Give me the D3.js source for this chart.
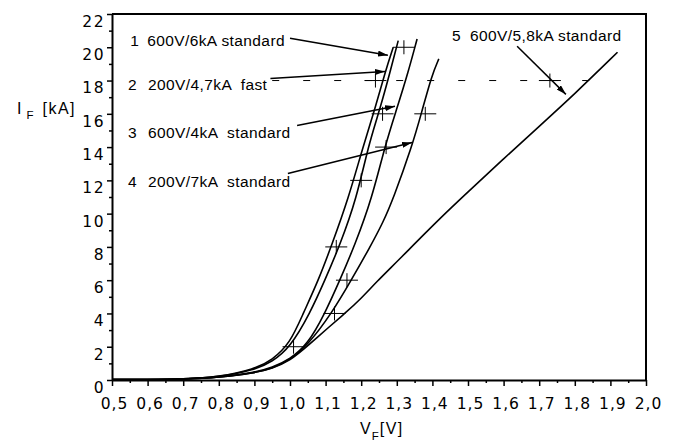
<!DOCTYPE html>
<html>
<head>
<meta charset="utf-8">
<script src="https://cdnjs.cloudflare.com/ajax/libs/d3/7.8.5/d3.min.js"></script>
<style>
  body { margin: 0; background: #fff; }
  svg { display: block; font-family: "Liberation Sans", Arial, sans-serif; }
</style>
</head>
<body>
<svg id="chart" width="676" height="443"></svg>
<script>
// forward voltage V_F [V] and current I_F [kA]
var curve1V = [0.50, 0.60, 0.70, 0.80, 0.90, 0.95, 1.00, 1.037, 1.080, 1.117, 1.164, 1.206, 1.239, 1.267, 1.290];
var curve1I = [0.02, 0.03, 0.06, 0.18, 0.65, 1.20, 2.20, 4.00, 6.00, 8.10, 10.9, 14.1, 16.3, 18.5, 20.0];

var curve2V = [0.50, 0.60, 0.70, 0.80, 0.90, 0.95, 1.00, 1.056, 1.098, 1.140, 1.187, 1.220, 1.253, 1.281, 1.304];
var curve2I = [0.02, 0.03, 0.06, 0.17, 0.60, 1.10, 1.95, 4.00, 6.00, 8.10, 10.9, 14.1, 16.3, 18.5, 20.4];

var curve3V = [0.50, 0.60, 0.70, 0.80, 0.90, 0.95, 1.00, 1.05, 1.098, 1.140, 1.182, 1.230, 1.267, 1.300, 1.332, 1.357];
var curve3I = [0.02, 0.03, 0.05, 0.15, 0.45, 0.75, 1.25, 2.15, 4.00, 6.00, 8.10, 10.9, 14.1, 16.3, 18.5, 20.5];

var curve4V = [0.50, 0.60, 0.70, 0.80, 0.90, 0.95, 1.00, 1.05, 1.117, 1.172, 1.225, 1.262, 1.290, 1.342, 1.370, 1.398, 1.418];
var curve4I = [0.02, 0.03, 0.05, 0.15, 0.42, 0.70, 1.20, 2.10, 4.00, 6.00, 8.00, 9.50, 10.9, 14.0, 16.1, 18.3, 19.3];

var curve5V = [0.50, 0.60, 0.70, 0.80, 0.90, 0.95, 1.00, 1.05, 1.11, 1.154, 1.20, 1.243, 1.30, 1.42, 1.50, 1.60, 1.70, 1.80, 1.92];
var curve5I = [0.02, 0.03, 0.05, 0.15, 0.42, 0.70, 1.15, 2.05, 3.20, 4.00, 4.90, 5.90, 7.10, 9.70, 11.3, 13.3, 15.25, 17.2, 19.7];

var seriesNums = ["1", "2", "3", "4", "5"];
var seriesNames = ["600V/6kA standard", "200V/4,7kA  fast", "600V/4kA  standard", "200V/7kA  standard", "600V/5,8kA standard"];

var xTicks = [0.5, 0.6, 0.7, 0.8, 0.9, 1.0, 1.1, 1.2, 1.3, 1.4, 1.5, 1.6, 1.7, 1.8, 1.9, 2.0];
var yTicks = [0, 2, 4, 6, 8, 10, 12, 14, 16, 18, 20, 22];

// leftover grid crosses in the scan
var crossV = [1.01, 1.125, 1.16, 1.13, 1.20, 1.27, 1.26, 1.38, 1.24, 1.32, 1.73];
var crossI = [2, 4, 6, 8, 12, 14, 16, 16, 18, 20, 18];

var svg = d3.select("#chart");

var x = d3.scaleLinear().domain([0.5, 2.0]).range([112, 646]);
var y = d3.scaleLinear().domain([0, 22]).range([380, 14]);

var fmt = function(d) { return d3.format(".1f")(d).replace(".", ","); };

// minor ticks
svg.append("g")
    .attr("transform", "translate(0,380)")
    .call(d3.axisBottom(x).tickValues(d3.range(0.55, 2.0, 0.1)).tickSize(3).tickFormat(""))
    .call(function(g) { g.select(".domain").remove(); });
svg.append("g")
    .attr("transform", "translate(112,0)")
    .call(d3.axisLeft(y).tickValues(d3.range(1, 22, 2)).tickSize(3).tickFormat(""))
    .call(function(g) { g.select(".domain").remove(); });

// x axis
var xAxis = svg.append("g")
    .attr("transform", "translate(0,380)")
    .call(d3.axisBottom(x).tickValues(xTicks).tickSize(6).tickSizeOuter(0).tickPadding(12).tickFormat(fmt));
xAxis.selectAll("text")
    .attr("font-family", "DejaVu Sans, sans-serif")
    .attr("font-size", 15.5)
    .attr("letter-spacing", 1)
    .attr("fill", "#000")
    .attr("dx", 2);

// y axis
var yAxis = svg.append("g")
    .attr("transform", "translate(112,0)")
    .call(d3.axisLeft(y).tickValues(yTicks).tickSize(5).tickSizeOuter(0).tickPadding(2).tickFormat(d3.format("d")));
yAxis.selectAll("text")
    .attr("font-family", "DejaVu Sans, sans-serif")
    .attr("font-size", 15.5)
    .attr("letter-spacing", 1.5)
    .attr("fill", "#000")
    .attr("dy", "0.8em");

svg.selectAll(".domain").attr("stroke-width", 2);
svg.selectAll(".tick line").attr("stroke-width", 1.5);

// frame: top and right
svg.append("path")
    .attr("d", "M" + x(0.5) + "," + y(22) + "H" + x(2.0) + "V" + y(0))
    .attr("fill", "none")
    .attr("stroke", "#000")
    .attr("stroke-width", 2);

// grid remnants
svg.append("line")
    .attr("x1", x(0.95)).attr("x2", x(1.85))
    .attr("y1", y(18)).attr("y2", y(18))
    .attr("stroke", "#000").attr("stroke-width", 1)
    .attr("stroke-dasharray", "7,24");

svg.selectAll(".cross")
    .data(crossV)
    .enter().append("path")
    .attr("class", "cross")
    .attr("d", function(d, i) {
        var cx = x(d), cy = y(crossI[i]);
        return "M" + (cx - 11) + "," + cy + "H" + (cx + 11) + "M" + cx + "," + (cy - 7) + "V" + (cy + 7);
    })
    .attr("stroke", "#000")
    .attr("stroke-width", 1);

// curves
var allV = [curve1V, curve2V, curve3V, curve4V, curve5V];
var allI = [curve1I, curve2I, curve3I, curve4I, curve5I];

var line = d3.line()
    .x(function(d) { return x(d[0]); })
    .y(function(d) { return y(d[1]); })
    .curve(d3.curveBasis);

allV.forEach(function(vs, k) {
    var pts = vs.map(function(v, j) { return [v, allI[k][j]]; });
    svg.append("path")
        .datum(pts)
        .attr("d", line)
        .attr("fill", "none")
        .attr("stroke", "#000")
        .attr("stroke-width", 1.6);
});

// labels with arrows
var labelV = [0.551, 0.545, 0.545, 0.545, 1.455];
var labelI = [20.06, 17.45, 14.55, 11.6, 20.36];
var arrowFromV = [1.0, 0.945, 1.02, 0.994, 1.638];
var arrowFromI = [20.54, 18.13, 15.30, 12.41, 20.06];
var arrowToV = [1.275, 1.267, 1.295, 1.343, 1.775];
var arrowToI = [19.52, 18.55, 16.45, 14.28, 17.17];

svg.append("defs").append("marker")
    .attr("id", "head")
    .attr("viewBox", "0 0 10 6")
    .attr("refX", 10).attr("refY", 3)
    .attr("markerWidth", 10).attr("markerHeight", 6)
    .attr("markerUnits", "userSpaceOnUse")
    .attr("orient", "auto")
    .append("path")
    .attr("d", "M0,0L10,3L0,6Z")
    .attr("fill", "#000");

seriesNums.forEach(function(n, k) {
    var t = svg.append("text")
        .attr("x", x(labelV[k]))
        .attr("y", y(labelI[k]))
        .attr("font-size", 15.5)
        .attr("letter-spacing", 0.4)
        .attr("fill", "#000")
        .style("white-space", "pre");
    t.append("tspan").text(n);
    t.append("tspan").attr("dx", k === 4 ? 9 : (k === 0 ? 8 : 11)).text(seriesNames[k]);

    svg.append("line")
        .attr("x1", x(arrowFromV[k])).attr("y1", y(arrowFromI[k]))
        .attr("x2", x(arrowToV[k])).attr("y2", y(arrowToI[k]))
        .attr("stroke", "#000")
        .attr("stroke-width", 1.5)
        .attr("marker-end", "url(#head)");
});

// axis titles
var yt = svg.append("text").attr("x", 17).attr("y", 114).attr("font-size", 16).attr("fill", "#000");
yt.append("tspan").text("I");
yt.append("tspan").attr("font-size", 11.5).attr("dx", 5).attr("dy", 5).text("F");
yt.append("tspan").attr("dx", 9).attr("dy", -5).attr("letter-spacing", 1.5).text("[kA]");

var xt = svg.append("text").attr("x", 360).attr("y", 434).attr("font-size", 16).attr("fill", "#000");
xt.append("tspan").attr("letter-spacing", 1).text("V");
xt.append("tspan").attr("font-size", 11.5).attr("dy", 6).text("F");
xt.append("tspan").attr("dy", -6).attr("dx", 1).attr("letter-spacing", 1.5).text("[V]");
</script>
</body>
</html>
